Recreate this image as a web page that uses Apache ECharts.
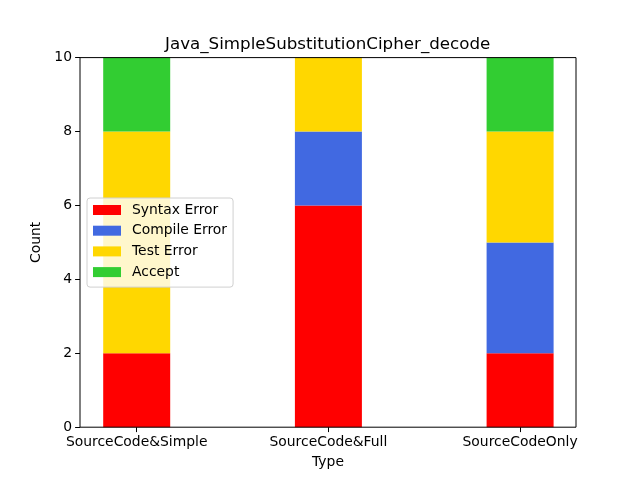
<!DOCTYPE html>
<html><head><meta charset="utf-8">
<script src="https://cdn.jsdelivr.net/npm/echarts@6/dist/echarts.min.js"></script>
<style>html,body{margin:0;padding:0;background:#fff}#c{width:640px;height:480px}</style>
</head><body><div id="c"></div>
<script>
const categories = ['SourceCode&Simple', 'SourceCode&Full', 'SourceCodeOnly'];
const seriesNames = ['Syntax Error', 'Compile Error', 'Test Error', 'Accept'];
const syntaxError = [2, 6, 2];
const compileError = [0, 2, 3];
const testError = [6, 2, 3];
const accept = [2, 0, 2];
const colors = ['#FF0000', '#4169E1', '#FFD700', '#32CD32'];
const yTicks = [0, 2, 4, 6, 8, 10];

const values = [syntaxError, compileError, testError, accept];
const font = 'DejaVu Sans';
const txt = {fontFamily: font, fontSize: 13.9, color: '#000'};
const chart = echarts.init(document.getElementById('c'), null, {renderer: 'canvas'});
chart.setOption({
  animation: false,
  backgroundColor: '#fff',
  title: {
    text: 'Java_SimpleSubstitutionCipher_decode',
    left: 165, top: 36, padding: 0,
    textStyle: {fontFamily: font, fontSize: 16.7, fontWeight: 'normal', color: '#000'}
  },
  legend: {
    orient: 'vertical', left: 87, top: 198,
    itemWidth: 28, itemHeight: 10, itemGap: 6.7,
    padding: [5, 6, 8, 6],
    backgroundColor: 'rgba(255,255,255,0.8)',
    borderColor: '#d0d0d0', borderWidth: 1, borderRadius: 3,
    icon: 'rect',
    textStyle: Object.assign({padding: [0, 0, 0, 6]}, txt),
    data: seriesNames
  },
  grid: [
    {left: 80, right: 64, top: 57.6, bottom: 52.8, show: true, borderColor: '#000', borderWidth: 1, backgroundColor: 'transparent', z: 3},
    {left: 40.85, right: 24.05, top: 57.6, bottom: 52.8, show: false}
  ],
  xAxis: [
    {
      gridIndex: 0, type: 'value', min: 0, max: 1,
      name: 'Type', nameLocation: 'middle', nameGap: 28, nameTextStyle: txt,
      axisLine: {show: false}, axisTick: {show: false}, axisLabel: {show: false}, splitLine: {show: false}
    },
    {
      gridIndex: 1, type: 'category', data: categories,
      axisLine: {show: false},
      axisTick: {show: true, alignWithLabel: true, length: 4.9, lineStyle: {color: '#000'}},
      axisLabel: Object.assign({margin: 8, interval: 0}, txt),
      splitLine: {show: false}
    }
  ],
  yAxis: [
    {
      gridIndex: 0, type: 'value', min: 0, max: 10, interval: 2,
      name: 'Count', nameLocation: 'middle', nameGap: 36, nameRotate: 90, nameTextStyle: txt,
      axisLine: {show: false},
      axisTick: {show: true, length: 4.9, lineStyle: {color: '#000'}},
      axisLabel: Object.assign({margin: 8, formatter: v => yTicks.includes(v) ? String(v) : ''}, txt),
      splitLine: {show: false}
    },
    {
      gridIndex: 1, type: 'value', min: 0, max: 10, show: false
    }
  ],
  series: seriesNames.map((name, i) => ({
    name, type: 'bar', stack: 'total', barWidth: 67,
    xAxisIndex: 1, yAxisIndex: 1,
    itemStyle: {color: colors[i]},
    data: values[i]
  }))
});
</script></body></html>
